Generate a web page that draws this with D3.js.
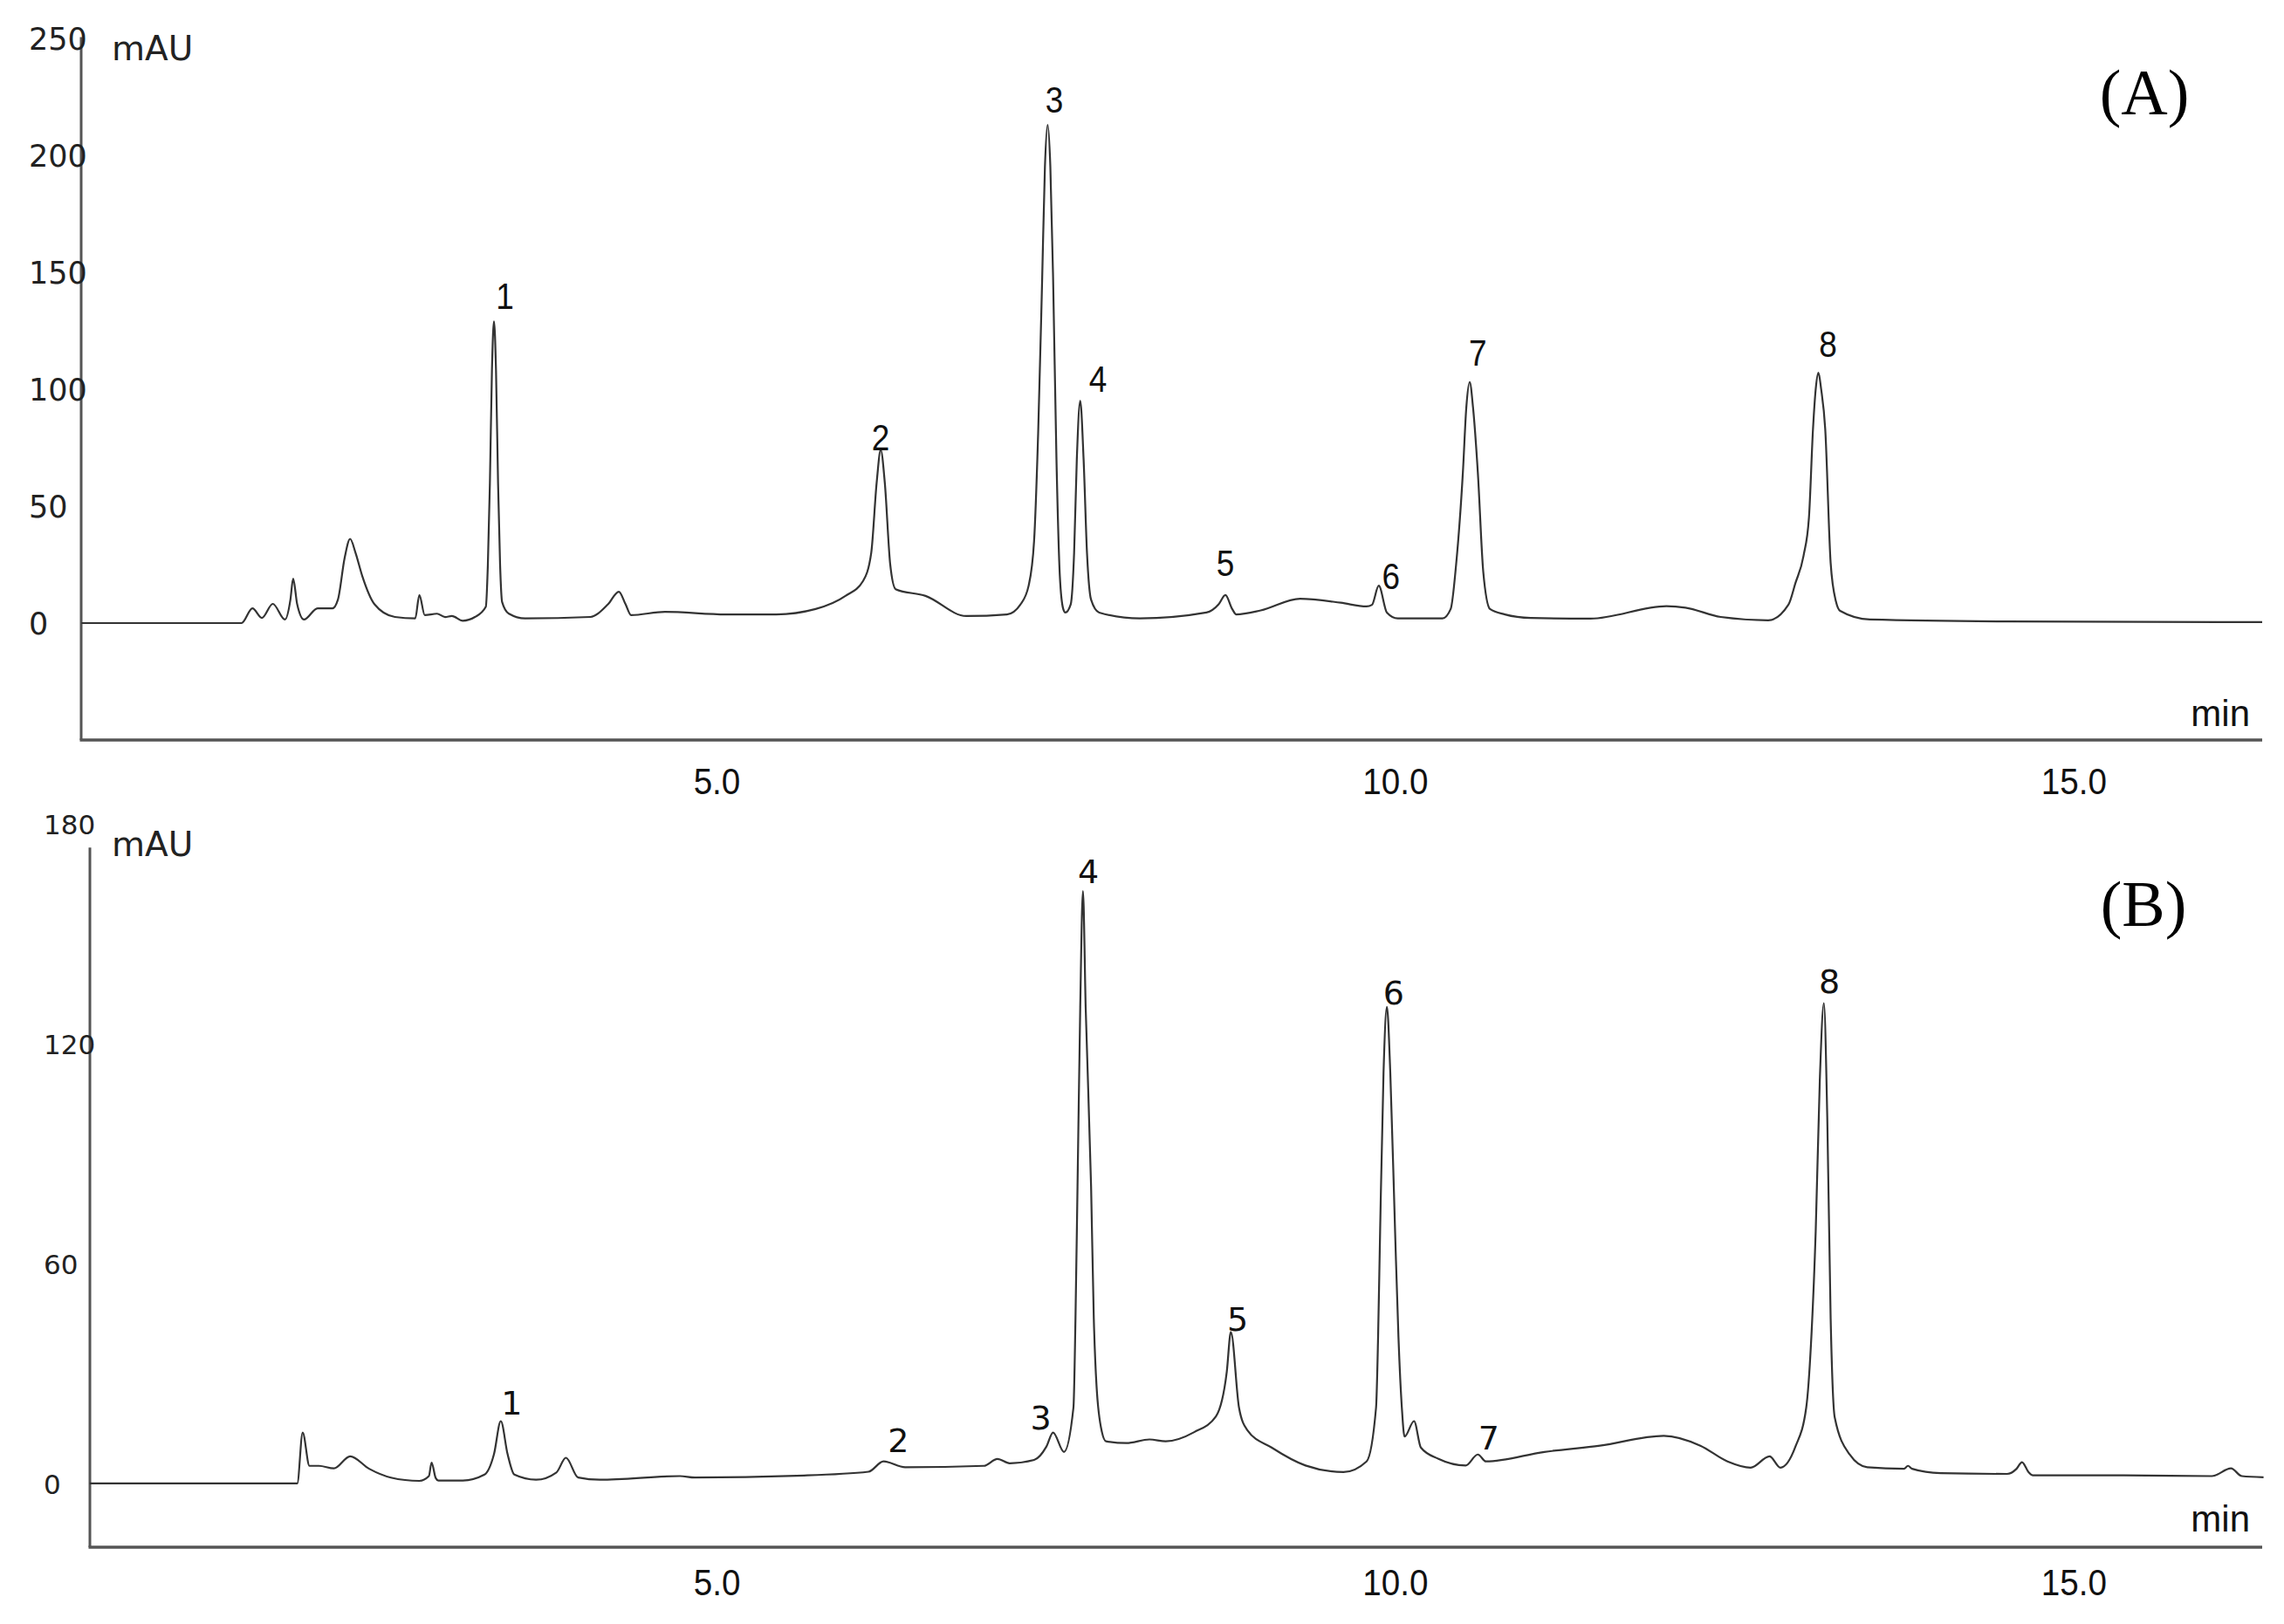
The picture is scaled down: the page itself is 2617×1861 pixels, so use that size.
<!DOCTYPE html>
<html>
<head>
<meta charset="utf-8">
<script src="https://cdn.jsdelivr.net/npm/d3@7"></script>
<style>
  body { margin: 0; background: #fff; }
  svg { display: block; }
</style>
</head>
<body>
<svg id="chart" width="2617" height="1861"></svg>
<script>
// 色谱图 (A)：保留时间 (min) 与吸光度 (mAU)
const timeA = [0.32, 1.50, 1.58, 1.65, 1.73, 1.82, 1.86, 1.88, 1.91, 1.96, 2.06, 2.17, 2.21, 2.26, 2.30, 2.34, 2.39, 2.48, 2.63, 2.78, 2.81, 2.85, 2.94, 3.00, 3.05, 3.13, 3.22, 3.30, 3.315, 3.33, 3.345, 3.36, 3.375, 3.39, 3.405, 3.42, 3.47, 3.59, 4.07, 4.20, 4.28, 4.33, 4.37, 4.62, 5.07, 5.44, 5.73, 5.95, 6.08, 6.14, 6.18, 6.21, 6.24, 6.28, 6.32, 6.54, 6.84, 7.14, 7.24, 7.30, 7.34, 7.37, 7.40, 7.42, 7.44, 7.46, 7.48, 7.505, 7.53, 7.555, 7.57, 7.61, 7.635, 7.655, 7.68, 7.705, 7.73, 7.76, 7.82, 8.12, 8.61, 8.70, 8.75, 8.80, 8.83, 9.01, 9.30, 9.60, 9.79, 9.83, 9.88, 9.94, 10.02, 10.35, 10.41, 10.45, 10.50, 10.525, 10.55, 10.575, 10.61, 10.65, 10.70, 10.81, 11.00, 11.44, 12.00, 12.14, 12.40, 12.75, 12.90, 12.95, 13.01, 13.05, 13.08, 13.10, 13.12, 13.14, 13.17, 13.21, 13.25, 13.28, 13.50, 14.50, 16.39];
const mauA  = [0, 0, 6.3, 2.2, 8.2, 1.5, 10, 19, 8, 1.5, 6.3, 6.3, 10, 28, 36, 30, 20, 8, 2.6, 2, 12, 3.4, 4, 2.6, 3, 1, 2.6, 7, 25, 60, 108, 129, 108, 60, 25, 9, 4, 2, 2.6, 8, 13.4, 8, 3.4, 4.8, 3.7, 3.7, 6, 11.6, 18, 30, 60, 74, 60, 25, 14.5, 11.6, 3, 3.7, 8, 16, 35, 81, 148, 195, 213, 195, 148, 70, 20, 6, 4.5, 8, 30, 70, 95, 70, 30, 10, 4.5, 2, 4.5, 8, 12, 6, 3.7, 5.4, 10.4, 8.7, 7.1, 7.8, 16, 4.5, 2, 2, 6, 25, 64.5, 92, 103, 92, 64.5, 22, 6, 3.7, 2.2, 1.9, 7.2, 6.6, 2.6, 1.2, 8, 17, 28.7, 45, 83, 100, 107, 100, 83, 25.7, 9, 5.2, 1.5, 0.7, 0.4];

// 色谱图 (B)
const timeB = [0.38, 1.91, 1.95, 2.00, 2.07, 2.18, 2.30, 2.44, 2.60, 2.81, 2.88, 2.90, 2.93, 2.95, 3.13, 3.29, 3.36, 3.41, 3.46, 3.51, 3.67, 3.82, 3.89, 3.98, 4.14, 4.73, 4.84, 5.59, 6.12, 6.23, 6.39, 6.97, 7.07, 7.16, 7.34, 7.43, 7.48, 7.56, 7.63, 7.645, 7.66, 7.68, 7.70, 7.72, 7.76, 7.78, 7.80, 7.84, 7.87, 8.02, 8.19, 8.31, 8.52, 8.68, 8.76, 8.79, 8.85, 8.91, 9.09, 9.34, 9.62, 9.79, 9.86, 9.875, 9.89, 9.915, 9.94, 9.965, 10.00, 10.025, 10.05, 10.07, 10.14, 10.19, 10.32, 10.52, 10.61, 10.67, 11.10, 11.51, 11.98, 12.25, 12.45, 12.62, 12.76, 12.84, 12.95, 13.03, 13.065, 13.10, 13.13, 13.16, 13.185, 13.21, 13.24, 13.35, 13.48, 13.75, 13.78, 13.81, 14.02, 14.51, 14.58, 14.62, 14.67, 14.70, 15.37, 16.02, 16.16, 16.24, 16.40];
const mauB  = [0, 0, 13.9, 4.8, 4.8, 4.1, 7.4, 4, 1.6, 0.7, 2, 5.7, 1.5, 0.8, 0.8, 2.4, 8, 17, 8, 2.4, 1, 3, 7, 1.6, 1, 2, 1.6, 2.1, 3.2, 6, 4.4, 4.8, 6.7, 5.5, 6.4, 10, 13.9, 8.6, 20.7, 45, 81, 130, 161.6, 130, 81, 45, 26.7, 14, 11.5, 11, 12, 11.5, 14, 18.3, 30.5, 41.3, 20.7, 14.6, 9.8, 4.9, 3.1, 6, 20.7, 40, 69, 112, 130, 112, 69, 40, 20.7, 12.8, 17, 9.8, 6.7, 4.9, 7.9, 6, 8.6, 10.3, 13, 10.3, 6, 4.3, 7.4, 4.3, 10, 20.7, 38, 69, 110, 131, 100, 45, 18, 7.9, 4.4, 4, 4.8, 4, 2.8, 2.6, 4, 5.8, 3, 2.2, 2.2, 2, 4.1, 2, 1.7];

// 峰编号及标注位置（时间, mAU）
const peakNames = ["1", "2", "3", "4", "5", "6", "7", "8"];
const peakTimeA = [3.44, 6.21, 7.49, 7.81, 8.75, 9.97, 10.61, 13.19];
const peakLevelA = [140, 79.5, 224, 104.5, 26, 20.5, 116, 119.4];
const peakTimeB = [3.49, 6.34, 7.39, 7.74, 8.84, 9.99, 10.69, 13.20];
const peakLevelB = [22, 11.7, 18, 167, 45, 134, 12.6, 137];

// 刻度
const yTicksA = [0, 50, 100, 150, 200, 250];
const yTicksB = [0, 60, 120, 180];
const xTicks = [5, 10, 15];

const svg = d3.select("#chart");
const narrowFont = "'Liberation Sans', Arial, sans-serif";

const panels = [
    {
        tag: "(A)", time: timeA, mau: mauA,
        peakTime: peakTimeA, peakLevel: peakLevelA, yTicks: yTicksA,
        tDomain: [0.318, 16.39], xRange: [93, 2592],
        yDomain: [-50, 252], yRange: [848, 38.6],
        yLabelX: 33, yFont: 35, axisTop: 250.5,
        xPad: 32, peakFont: narrowFont, peakSize: 43, peakSquash: 0.86,
        tagPos: [2457, 105], minY: 832, mauY: 55
    },
    {
        tag: "(B)", time: timeB, mau: mauB,
        peakTime: peakTimeB, peakLevel: peakLevelB, yTicks: yTicksB,
        tDomain: [0.382, 16.39], xRange: [103, 2592],
        yDomain: [-17.4, 176], yRange: [1773, 960.7],
        yLabelX: 50, yFont: 31, axisTop: 173.5,
        xPad: 25, peakFont: "'DejaVu Sans', Verdana, sans-serif", peakSize: 38, peakSquash: 1,
        tagPos: [2456, 1035], minY: 1755, mauY: 967
    }
];

panels.forEach(drawPanel);

function drawPanel(p) {
    const x = d3.scaleLinear().domain(p.tDomain).range(p.xRange);
    const y = d3.scaleLinear().domain(p.yDomain).range(p.yRange);
    const g = svg.append("g");

    // 坐标轴线
    g.append("line")
        .attr("x1", p.xRange[0]).attr("x2", p.xRange[0])
        .attr("y1", y(p.yDomain[0])).attr("y2", y(p.axisTop))
        .attr("stroke", "#555").attr("stroke-width", 3);
    g.append("line")
        .attr("x1", p.xRange[0] - 1.5).attr("x2", p.xRange[1])
        .attr("y1", y(p.yDomain[0])).attr("y2", y(p.yDomain[0]))
        .attr("stroke", "#555").attr("stroke-width", 3.5);

    // y 轴刻度文字
    const yAxis = g.append("g")
        .attr("transform", `translate(${p.xRange[0]},0)`)
        .call(d3.axisLeft(y).tickValues(p.yTicks).tickSize(0).tickFormat(d3.format("d")));
    yAxis.select(".domain").remove();
    yAxis.selectAll("text")
        .attr("x", p.yLabelX - p.xRange[0])
        .attr("text-anchor", "start")
        .attr("dy", "0.36em")
        .attr("fill", "#222")
        .style("font-family", "'DejaVu Sans', Verdana, sans-serif")
        .style("font-size", p.yFont + "px");

    // x 轴刻度文字（窄体）
    const xAxis = g.append("g")
        .attr("transform", `translate(0,${y(p.yDomain[0])})`)
        .call(d3.axisBottom(x).tickValues(xTicks).tickSize(0).tickPadding(p.xPad).tickFormat(d3.format(".1f")));
    xAxis.select(".domain").remove();
    xAxis.selectAll("text")
        .attr("fill", "#111")
        .attr("transform", "scale(0.92,1)")
        .style("font-family", narrowFont)
        .style("font-size", "42px");

    // 单位
    g.append("text")
        .attr("x", 128).attr("y", p.mauY).attr("dy", "0.36em")
        .attr("fill", "#222")
        .style("font-family", "'DejaVu Sans', Verdana, sans-serif")
        .style("font-size", "39px")
        .text("mAU");
    g.append("text")
        .attr("x", 2578).attr("y", p.minY)
        .attr("text-anchor", "end")
        .attr("fill", "#111")
        .style("font-family", narrowFont)
        .style("font-size", "42px")
        .text("min");

    // 色谱曲线
    const pts = p.time.map((t, i) => [t, p.mau[i]]);
    const line = d3.line()
        .x(d => x(d[0]))
        .y(d => y(d[1]))
        .curve(d3.curveMonotoneX);
    g.append("path")
        .datum(pts)
        .attr("d", line)
        .attr("fill", "none")
        .attr("stroke", "#333")
        .attr("stroke-width", 2.2)
        .attr("stroke-linejoin", "round");

    // 峰编号
    g.selectAll(".peak")
        .data(peakNames)
        .enter()
        .append("text")
        .attr("class", "peak")
        .attr("transform", (d, i) => `translate(${x(p.peakTime[i])},${y(p.peakLevel[i])}) scale(${p.peakSquash},1)`)
        .attr("dy", "0.36em")
        .attr("text-anchor", "middle")
        .attr("fill", "#111")
        .style("font-family", p.peakFont)
        .style("font-size", p.peakSize + "px")
        .text(d => d);

    // 面板标记
    g.append("text")
        .attr("x", p.tagPos[0]).attr("y", p.tagPos[1])
        .attr("dy", "0.35em")
        .attr("text-anchor", "middle")
        .attr("fill", "#000")
        .style("font-family", "'Liberation Serif', 'Times New Roman', serif")
        .style("font-size", "74px")
        .text(p.tag);
}
</script>
</body>
</html>
